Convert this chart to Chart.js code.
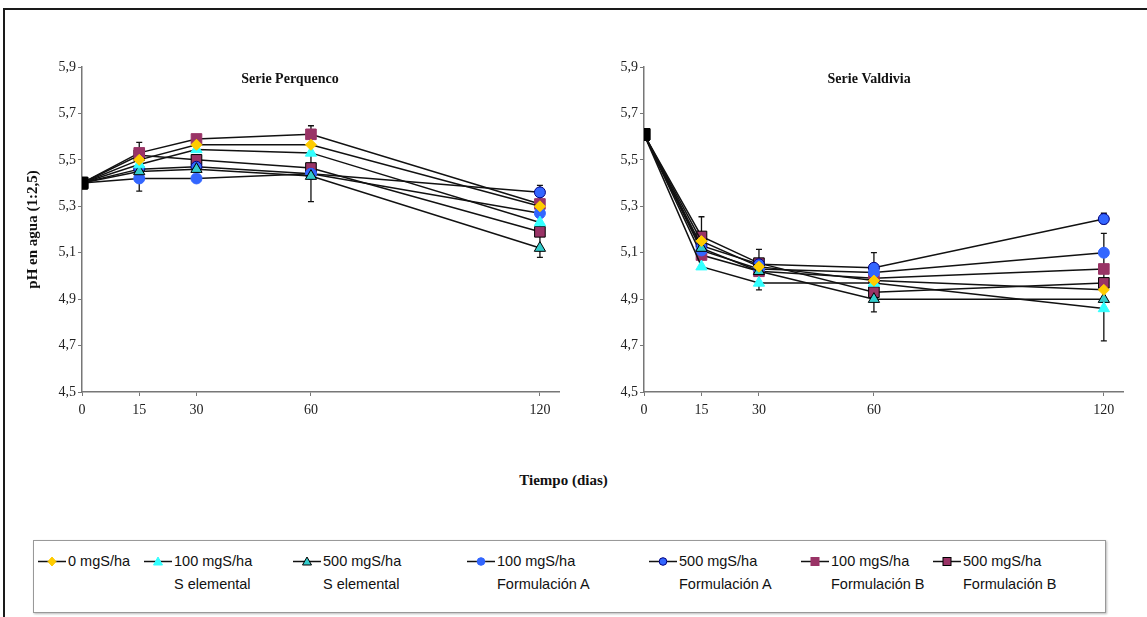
<!DOCTYPE html>
<html>
<head>
<meta charset="utf-8">
<script src="https://cdn.jsdelivr.net/npm/chart.js@4.4.1/dist/chart.umd.min.js"></script>
<style>
  body { margin: 0; background: #fff; width: 1147px; height: 617px; overflow: hidden; position: relative;
         font-family: "Liberation Serif", "Times New Roman", serif; }
  #frame { position: absolute; left: 3px; top: 8px; width: 1170px; height: 640px; border: 2px solid #1a1a1a; box-sizing: border-box; }
  canvas { position: absolute; }
  #xTitle { position: absolute; left: 0; width: 1127px; top: 472px; text-align: center; font-weight: bold; font-size: 15px; color: #111; }
  #legend { position: absolute; left: 33px; top: 540px; width: 1073px; height: 73px; border: 1px solid #999;
            box-shadow: 1px 1px 2px #bbb; box-sizing: border-box; }
  .item { position: absolute; top: 9px; display: flex; align-items: flex-start;
          font-family: "Liberation Sans", Arial, sans-serif; font-size: 14.5px; color: #111; line-height: 23px; }
  .item svg { margin-right: 2px; }
</style>
</head>
<body>
<div id="frame"></div>
<canvas id="perquenco" width="575" height="400" style="left:0;top:40px"></canvas>
<canvas id="valdivia" width="572" height="400" style="left:575px;top:40px"></canvas>
<div id="xTitle">Tiempo (dias)</div>
<div id="legend"></div>

<script>
// dias de muestreo
const days = [0, 15, 30, 60, 120];
const yTicks = [4.5, 4.7, 4.9, 5.1, 5.3, 5.5, 5.7, 5.9];

// nombres de los tratamientos
const seriesNames = [
  ['0 mgS/ha'],
  ['100 mgS/ha', 'S elemental'],
  ['500 mgS/ha', 'S elemental'],
  ['100 mgS/ha', 'Formulación A'],
  ['500 mgS/ha', 'Formulación A'],
  ['100 mgS/ha', 'Formulación B'],
  ['500 mgS/ha', 'Formulación B']
];

// Serie Perquenco
const perqCero = [5.40, 5.50, 5.565, 5.565, 5.30];
const perqS100 = [5.40, 5.48, 5.545, 5.53, 5.23];
const perqS500 = [5.40, 5.45, 5.46, 5.43, 5.12];
const perqA100 = [5.40, 5.42, 5.42, 5.44, 5.27];
const perqA500 = [5.40, 5.46, 5.47, 5.44, 5.36];
const perqB100 = [5.40, 5.53, 5.59, 5.61, 5.31];
const perqB500 = [5.40, 5.52, 5.50, 5.465, 5.19];

// Serie Valdivia
const valdCero = [5.61, 5.15, 5.04, 4.98, 4.94];
const valdS100 = [5.61, 5.04, 4.97, 4.97, 4.86];
const valdS500 = [5.61, 5.12, 5.02, 4.90, 4.90];
const valdA100 = [5.61, 5.11, 5.03, 5.015, 5.10];
const valdA500 = [5.61, 5.13, 5.05, 5.035, 5.245];
const valdB100 = [5.61, 5.09, 5.02, 4.99, 5.03];
const valdB500 = [5.61, 5.17, 5.055, 4.93, 4.97];

// barras de error (dia, minimo, maximo)
const perqErrDay  = [15, 60, 120];
const perqErrLow  = [5.365, 5.32, 5.08];
const perqErrHigh = [5.575, 5.647, 5.39];
const valdErrDay  = [15, 30, 60, 120, 120];
const valdErrLow  = [5.12, 4.94, 4.845, 4.72, 5.225];
const valdErrHigh = [5.255, 5.114, 5.10, 5.183, 5.27];

// apariencia de cada tratamiento
const looks = [
  { style: 'rectRot',  fill: '#FFCC00', edge: '#FFCC00', r: 5.5 },
  { style: 'triangle', fill: '#33FFFF', edge: '#33FFFF', r: 6.5 },
  { style: 'triangle', fill: '#33CCCC', edge: '#000000', r: 6.5 },
  { style: 'circle',   fill: '#3366FF', edge: '#3366FF', r: 5.5 },
  { style: 'circle',   fill: '#3366FF', edge: '#000080', r: 5.5 },
  { style: 'rect',     fill: '#993366', edge: '#993366', r: 7.5 },
  { style: 'rect',     fill: '#993366', edge: '#000000', r: 7.5 }
];

const serif = '"Liberation Serif", "Times New Roman", serif';

// titulo dentro del area de trazado
const panelTitle = {
  id: 'panelTitle',
  afterDraw(chart, args, opts) {
    const { ctx, chartArea } = chart;
    ctx.save();
    ctx.font = 'bold 14px ' + serif;
    ctx.fillStyle = '#111';
    ctx.textAlign = 'center';
    ctx.textBaseline = 'middle';
    ctx.fillText(opts.text, chartArea.left + opts.pos * (chartArea.right - chartArea.left), chartArea.top + 12);
    ctx.restore();
  }
};

const errorBars = {
  id: 'errorBars',
  beforeDatasetsDraw(chart, args, opts) {
    const { ctx, scales: { x, y } } = chart;
    ctx.save();
    ctx.strokeStyle = '#111';
    ctx.lineWidth = 1.3;
    opts.days.forEach((d, i) => {
      const px = x.getPixelForValue(d);
      const lo = y.getPixelForValue(opts.low[i]);
      const hi = y.getPixelForValue(opts.high[i]);
      ctx.beginPath();
      ctx.moveTo(px, lo); ctx.lineTo(px, hi);
      ctx.moveTo(px - 3, lo); ctx.lineTo(px + 3, lo);
      ctx.moveTo(px - 3, hi); ctx.lineTo(px + 3, hi);
      ctx.stroke();
    });
    ctx.restore();
  }
};

function buildDatasets(series) {
  return series.map((vals, i) => {
    const lk = looks[i];
    return {
      label: seriesNames[i].join(' '),
      data: days.map((d, j) => ({ x: d, y: vals[j] })),
      borderColor: '#111',
      borderWidth: 1.5,
      tension: 0,
      pointStyle: c => c.dataIndex === 0 ? 'rect' : lk.style,
      pointRadius: c => c.dataIndex === 0 ? 8 : lk.r,
      pointBackgroundColor: c => c.dataIndex === 0 ? '#000' : lk.fill,
      pointBorderColor: c => c.dataIndex === 0 ? '#000' : lk.edge,
      pointBorderWidth: 1
    };
  });
}

function makeChart(id, series, title, titlePos, err, yWidth, padRight, showYTitle) {
  const tickFont = { family: serif, size: 14 };
  return new Chart(document.getElementById(id), {
    type: 'line',
    data: { datasets: buildDatasets(series) },
    options: {
      responsive: false,
      animation: false,
      layout: { padding: { left: 0, top: 27, right: padRight, bottom: 0 } },
      plugins: {
        legend: { display: false },
        tooltip: { enabled: false },
        panelTitle: { text: title, pos: titlePos },
        errorBars: err
      },
      scales: {
        x: {
          type: 'linear', min: 0, max: 125,
          afterBuildTicks: s => { s.ticks = days.map(v => ({ value: v })); },
          afterFit: s => { s.height = 48; },
          grid: { drawOnChartArea: false, tickLength: 4, color: '#777' },
          border: { color: '#777', width: 1.5 },
          ticks: { font: tickFont, color: '#222', padding: 6, maxRotation: 0 }
        },
        y: {
          min: 4.5, max: 5.9,
          afterBuildTicks: s => { s.ticks = yTicks.map(v => ({ value: v })); },
          afterFit: s => { s.width = yWidth; },
          grid: { drawOnChartArea: false, tickLength: 4, color: '#777' },
          border: { color: '#777', width: 1.5 },
          ticks: { font: tickFont, color: '#222', padding: 2, callback: v => v.toFixed(1).replace('.', ',') },
          title: {
            display: showYTitle, text: 'pH en agua (1:2,5)',
            font: { family: serif, size: 15, weight: 'bold' }, color: '#111',
            padding: { top: 24, bottom: 0 }
          }
        }
      }
    },
    plugins: [panelTitle, errorBars]
  });
}

makeChart('perquenco', [perqCero, perqS100, perqS500, perqA100, perqA500, perqB100, perqB500],
  'Serie Perquenco', 0.436, { days: perqErrDay, low: perqErrLow, high: perqErrHigh }, 82, 16, true);

makeChart('valdivia', [valdCero, valdS100, valdS500, valdA100, valdA500, valdB100, valdB500],
  'Serie Valdivia', 0.47, { days: valdErrDay, low: valdErrLow, high: valdErrHigh }, 69, 24, false);

// leyenda comun debajo de los dos graficos
function markerSvg(lk) {
  const cx = 14, cy = 11.5;
  let shape = '';
  if (lk.style === 'rectRot') shape = `<polygon points="${cx},${cy - 4.5} ${cx + 4},${cy} ${cx},${cy + 4.5} ${cx - 4},${cy}"`;
  else if (lk.style === 'triangle') shape = `<polygon points="${cx},${cy - 4.5} ${cx + 4.5},${cy + 3.5} ${cx - 4.5},${cy + 3.5}"`;
  else if (lk.style === 'circle') shape = `<circle cx="${cx}" cy="${cy}" r="3.8"`;
  else shape = `<rect x="${cx - 4}" y="${cy - 4}" width="8" height="8"`;
  return `<svg width="28" height="23"><line x1="0" y1="${cy}" x2="28" y2="${cy}" stroke="#111" stroke-width="1.5"/>` +
         `${shape} fill="${lk.fill}" stroke="${lk.edge}" stroke-width="1"/></svg>`;
}

const legendLeft = [4, 110, 259, 433, 615, 767, 899];
const legend = document.getElementById('legend');
seriesNames.forEach((name, i) => {
  const item = document.createElement('div');
  item.className = 'item';
  item.style.left = legendLeft[i] + 'px';
  item.innerHTML = markerSvg(looks[i]) + '<div>' + name.join('<br>') + '</div>';
  legend.appendChild(item);
});
</script>
</body>
</html>
